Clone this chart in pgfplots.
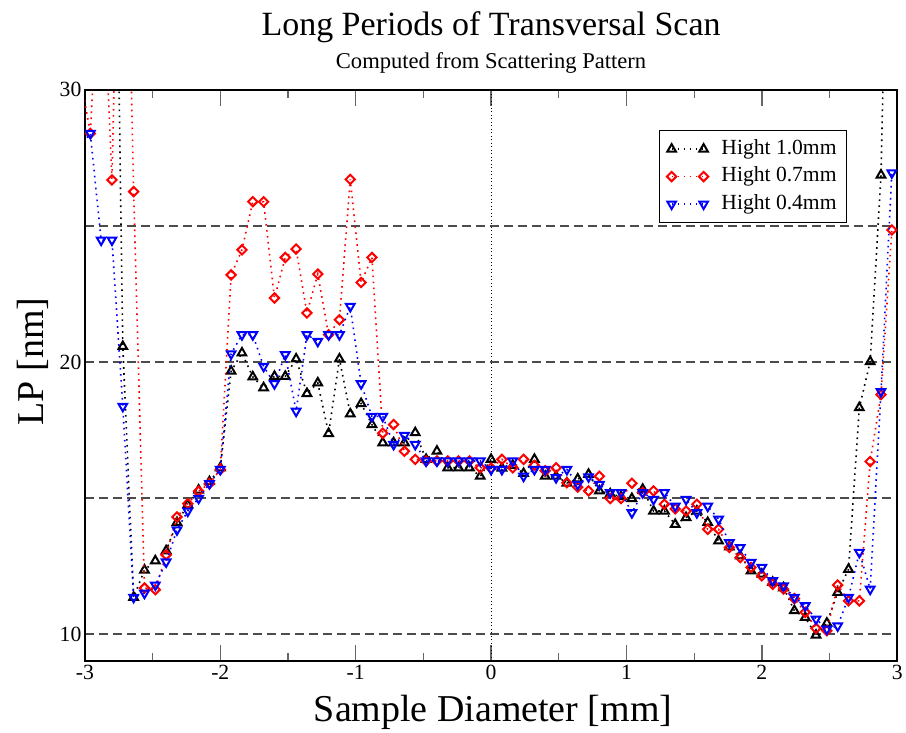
\documentclass[border=0pt]{standalone}
\usepackage{fontspec}
\setmainfont{Liberation Serif}
\usepackage{pgfplots}
\pgfplotsset{compat=1.18}
\usepackage{pgfplotstable}

\pgfplotstableread{
x y
-2.80 48
-2.72 20.57
-2.64 11.35
-2.56 12.35
-2.48 12.69
-2.40 13.06
-2.32 14.10
-2.24 14.75
-2.16 15.29
-2.08 15.60
-2.00 16.11
-1.92 19.66
-1.84 20.33
-1.76 19.45
-1.68 19.05
-1.60 19.47
-1.52 19.47
-1.44 20.11
-1.36 18.84
-1.28 19.23
-1.20 17.37
-1.12 20.11
-1.04 18.09
-0.96 18.47
-0.88 17.70
-0.80 17.03
-0.72 17.03
-0.64 17.03
-0.56 17.40
-0.48 16.42
-0.40 16.72
-0.32 16.11
-0.24 16.11
-0.16 16.11
-0.08 15.80
0.00 16.42
0.08 16.10
0.16 16.20
0.24 15.90
0.32 16.42
0.40 15.80
0.48 15.80
0.56 15.55
0.64 15.70
0.72 15.87
0.80 15.26
0.88 15.15
0.96 15.05
1.04 14.98
1.12 15.32
1.20 14.52
1.28 14.52
1.36 14.03
1.44 14.28
1.52 14.52
1.60 14.10
1.68 13.42
1.76 13.20
1.84 12.87
1.92 12.32
2.00 12.20
2.08 11.90
2.16 11.70
2.24 10.86
2.32 10.61
2.40 9.96
2.48 10.40
2.56 11.53
2.64 12.38
2.72 18.32
2.80 20.01
2.88 26.87
2.96 45
}\blackdata

\pgfplotstableread{
x y
-3.04 30.7
-2.96 28.40
-2.88 36
-2.80 26.69
-2.72 45
-2.64 26.26
-2.56 11.69
-2.48 11.63
-2.40 12.91
-2.32 14.30
-2.24 14.79
-2.16 15.25
-2.08 15.53
-2.00 16.05
-1.92 23.20
-1.84 24.12
-1.76 25.89
-1.68 25.89
-1.60 22.35
-1.52 23.84
-1.44 24.15
-1.36 21.80
-1.28 23.23
-1.20 21.00
-1.12 21.55
-1.04 26.71
-0.96 22.92
-0.88 23.84
-0.80 17.38
-0.72 17.70
-0.64 16.72
-0.56 16.42
-0.48 16.36
-0.40 16.36
-0.32 16.36
-0.24 16.36
-0.16 16.36
-0.08 16.11
0.00 16.10
0.08 16.42
0.16 16.11
0.24 16.42
0.32 16.20
0.40 16.00
0.48 16.11
0.56 15.56
0.64 15.40
0.72 15.26
0.80 15.80
0.88 14.98
0.96 14.98
1.04 15.54
1.12 15.20
1.20 15.26
1.28 14.77
1.36 14.60
1.44 14.52
1.52 14.77
1.60 13.85
1.68 13.85
1.76 13.18
1.84 12.81
1.92 12.45
2.00 12.14
2.08 11.83
2.16 11.65
2.24 11.30
2.32 10.80
2.40 10.21
2.48 10.12
2.56 11.80
2.64 11.22
2.72 11.22
2.80 16.34
2.88 18.80
2.96 24.85
}\reddata

\pgfplotstableread{
x y
-3.04 27.90
-2.96 28.40
-2.88 24.48
-2.80 24.48
-2.72 18.37
-2.64 11.35
-2.56 11.50
-2.48 11.80
-2.40 12.65
-2.32 13.83
-2.24 14.52
-2.16 14.99
-2.08 15.53
-2.00 16.05
-1.92 20.30
-1.84 21.00
-1.76 21.00
-1.68 19.84
-1.60 19.20
-1.52 20.27
-1.44 18.19
-1.36 21.00
-1.28 20.76
-1.20 21.00
-1.12 21.00
-1.04 22.04
-0.96 19.20
-0.88 18.00
-0.80 18.00
-0.72 16.97
-0.64 17.30
-0.56 16.97
-0.48 16.36
-0.40 16.36
-0.32 16.36
-0.24 16.36
-0.16 16.36
-0.08 16.36
0.00 16.05
0.08 16.05
0.16 16.36
0.24 15.80
0.32 16.05
0.40 16.05
0.48 15.75
0.56 16.05
0.64 15.50
0.72 15.78
0.80 15.50
0.88 15.20
0.96 15.20
1.04 14.46
1.12 15.20
1.20 14.95
1.28 15.20
1.36 14.70
1.44 14.95
1.52 14.46
1.60 14.70
1.68 14.22
1.76 13.36
1.84 13.18
1.92 12.63
2.00 12.45
2.08 11.96
2.16 11.77
2.24 11.35
2.32 11.04
2.40 10.55
2.48 10.18
2.56 10.30
2.64 11.35
2.72 13.00
2.80 11.65
2.88 18.91
2.96 26.95
}\bluedata

\begin{document}
\begin{tikzpicture}
\begin{axis}[
  scale only axis,
  width=813.3pt, height=572pt,
  xmin=-3, xmax=3, ymin=9, ymax=30,
  xtick={-3,-2,-1,0,1,2,3},
  xticklabels={-3,-2,-1,0,1,2,3},
  minor xtick={-2.5,-1.5,-0.5,0.5,1.5,2.5},
  ytick={10,20,30},
  yticklabels={10,20,30},
  minor ytick={15,25},
  tick align=inside,
  major tick length=16pt,
  minor tick length=8pt,
  every tick/.style={black!60, line width=1.3pt},
  every y tick/.style={draw=none},
  ymajorgrids, yminorgrids,
  major grid style={black!70, line width=1.3pt, dash pattern=on 9pt off 5pt},
  minor grid style={black!70, line width=1.3pt, dash pattern=on 9pt off 5pt},
  extra x ticks={0},
  extra x tick labels={},
  extra x tick style={grid=major, major grid style={black, line width=0.9pt, dash pattern=on 0.9pt off 2.6pt}, major tick length=0pt},
  axis line style={black, line width=2pt},
  ticklabel style={font=\fontsize{21.7}{26}\selectfont},
  clip marker paths=true,
  legend style={at={(rel axis cs:0.9385,0.930)}, anchor=north east,
    draw=black, line width=1pt, fill=white,
    font=\fontsize{21.6}{27}\selectfont,
    nodes={text height=15.5pt, text depth=5.5pt, inner sep=3.25pt},
    inner xsep=7pt, inner ysep=5pt,
    /tikz/every odd column/.append style={column sep=10pt}},
  legend cell align=left,
  legend image code/.code={\draw[#1, mark repeat=2, mark phase=1] plot coordinates {(0pt,0pt) (16pt,0pt) (32pt,0pt)};},
]
\addplot[black, line width=1.6pt, dash pattern=on 1.6pt off 4.4pt,
  mark=triangle, mark size=5pt, mark options={solid, line width=2pt}]
  table[x=x, y=y] {\blackdata};
\addlegendentry{Hight 1.0mm}
\addplot[red, line width=1.6pt, dash pattern=on 1.6pt off 4.4pt,
  mark=square, mark size=3.3pt, mark options={solid, rotate=45, line width=2pt}]
  table[x=x, y=y] {\reddata};
\addlegendentry{Hight 0.7mm}
\addplot[blue, line width=1.6pt, dash pattern=on 1.6pt off 4.4pt,
  mark=triangle, mark size=5pt, mark options={solid, rotate=180, line width=2pt}]
  table[x=x, y=y] {\bluedata};
\addlegendentry{Hight 0.4mm}
\end{axis}
\node[anchor=base, font=\fontsize{34}{40}\selectfont] at ([yshift=54pt]current axis.north) {Long Periods of Transversal Scan};
\node[anchor=base, font=\fontsize{22.6}{27}\selectfont] at ([yshift=21.7pt]current axis.north) {Computed from Scattering Pattern};
\node[anchor=base, font=\fontsize{38}{45}\selectfont] at ([xshift=2pt,yshift=-60pt]current axis.south) {Sample Diameter [mm]};
\node[anchor=base, rotate=90, font=\fontsize{38}{45}\selectfont] at ([xshift=-41.5pt,yshift=14pt]current axis.west) {LP [nm]};
\path ([xshift=-85pt,yshift=-69pt]current axis.south west) rectangle ([xshift=7.7pt,yshift=90pt]current axis.north east);
\end{tikzpicture}
\end{document}
